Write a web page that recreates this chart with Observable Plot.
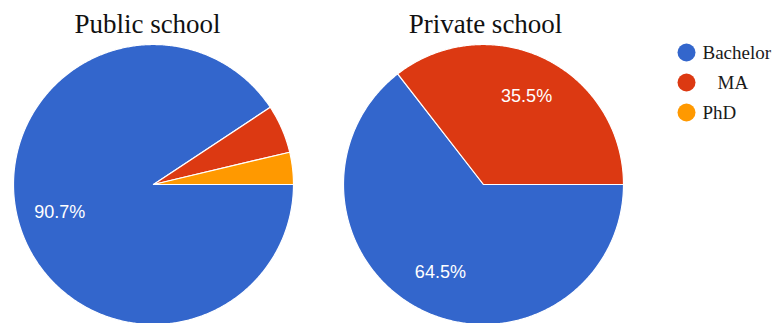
<!DOCTYPE html>
<html><head><meta charset="utf-8">
<script src="https://cdn.jsdelivr.net/npm/d3@7"></script>
<script src="https://cdn.jsdelivr.net/npm/@observablehq/plot@0.6"></script>
<style>html,body{margin:0;padding:0;background:#fff;overflow:hidden}</style>
</head><body><div id="chart"></div>
<script>
// ---- data ----
const categories = ["Bachelor", "MA", "PhD"];
const colors = ["#3366cc", "#dc3912", "#ff9900"];
const schools = ["Public school", "Private school"];
const publicValues = [90.7, 5.6, 3.7];
const privateValues = [64.5, 35.5, 0];

// ---- layout ----
const W = 775, H = 323, R = 140;
const centers = [{cx: 153, cy: 184}, {cx: 483, cy: 184}];
const titleX = [147, 485];
const seriesValues = [publicValues, privateValues];

const pie = d3.pie().sort(null).startAngle(Math.PI / 2).endAngle(Math.PI / 2 + 2 * Math.PI);
const pts = (c, r, a) => [c.cx + r * Math.sin(a), c.cy - r * Math.cos(a)];

const polys = [];
const labels = [];
seriesValues.forEach((vals, si) => {
  const c = centers[si];
  const arcs = pie(vals);
  arcs.forEach((a, i) => {
    if (a.value <= 0) return;
    const id = si + "-" + i;
    const step = Math.PI / 360;
    polys.push({id, key: categories[i], x: c.cx, y: c.cy});
    const n = Math.max(2, Math.ceil((a.endAngle - a.startAngle) / step));
    for (let k = 0; k <= n; k++) {
      const ang = a.startAngle + (a.endAngle - a.startAngle) * k / n;
      const [x, y] = pts(c, R, ang);
      polys.push({id, key: categories[i], x, y});
    }
    if (a.value >= 10) {
      const mid = (a.startAngle + a.endAngle) / 2;
      const [x, y] = pts(c, R * 0.7, mid);
      labels.push({x, y, text: a.value.toFixed(1) + "%"});
    }
  });
});

const titles = schools.map((s, i) => ({x: titleX[i], y: 24, text: s}));
const legend = categories.map((k, i) => ({key: k, x: 686, y: 52 + i * 30}));

const chart = Plot.plot({
  width: W, height: H,
  margin: 0,
  x: {domain: [0, W], range: [0, W], axis: null},
  y: {domain: [0, H], range: [0, H], axis: null},
  color: {domain: categories, range: colors},
  style: {background: "#fff"},
  marks: [
    Plot.line(polys, {x: "x", y: "y", z: "id", fill: "key", stroke: "#ffffff", strokeWidth: 1.2, curve: "linear-closed", strokeLinejoin: "round"}),
    Plot.text(labels, {x: "x", y: "y", text: "text", fill: "#ffffff", fontSize: 18, fontFamily: "Liberation Sans, Arial, sans-serif"}),
    Plot.text(titles, {x: "x", y: "y", text: "text", fill: "#111", fontSize: 27, fontFamily: "Liberation Serif, Times New Roman, serif"}),
    Plot.dot(legend, {x: "x", y: "y", r: 9, fill: "key", stroke: null}),
    Plot.text(legend, {x: d => d.key === "MA" ? 717 : 702, y: "y", text: "key", textAnchor: "start", fill: "#1a1a1a", fontSize: 19, fontFamily: "Liberation Serif, Times New Roman, serif"})
  ]
});
document.getElementById("chart").appendChild(chart);
</script>
</body></html>
